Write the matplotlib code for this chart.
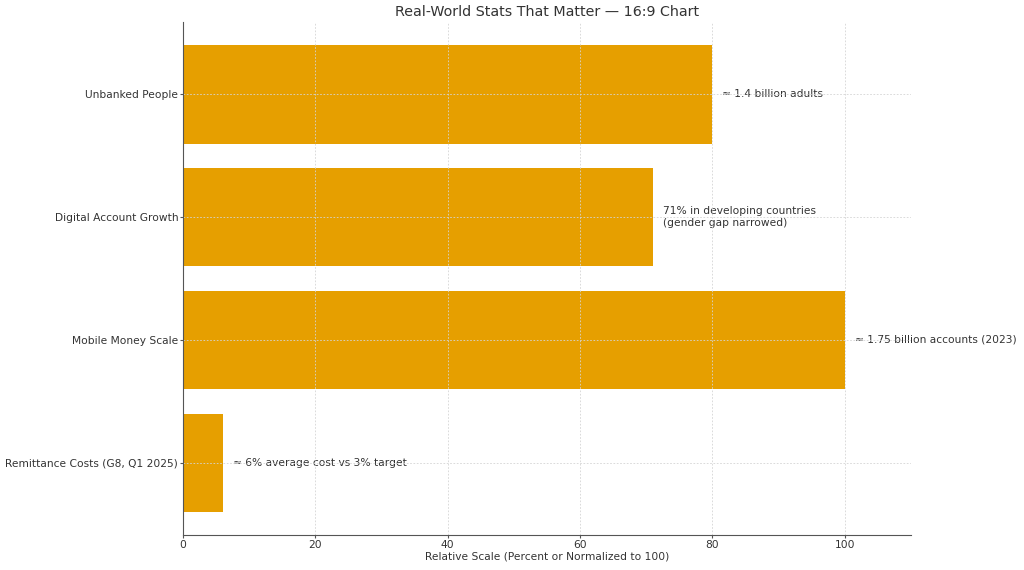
import matplotlib.pyplot as plt

# data
categories = ["Unbanked People", "Digital Account Growth", "Mobile Money Scale",
              "Remittance Costs (G8, Q1 2025)"]
values = [80, 71, 100, 6]
notes = ["≈ 1.4 billion adults",
         "71% in developing countries\n(gender gap narrowed)",
         "≈ 1.75 billion accounts (2023)",
         "≈ 6% average cost vs 3% target"]

txt = "#333333"

fig = plt.figure(figsize=(10.24, 5.7), dpi=100)
ax = fig.add_axes([183 / 1024, 35 / 570, 728 / 1024, 513 / 570])

ax.barh(categories, values, height=0.8, color="#E69F00", zorder=1)
ax.invert_yaxis()
ax.set_xlim(0, 110)

for i, (v, note) in enumerate(zip(values, notes)):
    ax.text(v + 1.5, i, note, va="center", ha="left", fontsize=7.7, color=txt, zorder=0)

ax.grid(True, color="#d4d4d4", linestyle=(0, (2, 2)), linewidth=0.6)
ax.set_axisbelow(False)

ax.spines["top"].set_visible(False)
ax.spines["right"].set_visible(False)
for side in ("left", "bottom"):
    ax.spines[side].set_color("#555555")
    ax.spines[side].set_zorder(5)
ax.tick_params(labelsize=7.7, colors=txt, length=2, pad=1.5, color="#555555")

ax.set_xlabel("Relative Scale (Percent or Normalized to 100)", fontsize=7.7, color=txt, labelpad=1)
ax.set_title("Real-World Stats That Matter — 16:9 Chart", fontsize=10.3, color=txt, pad=4)

fig.savefig("out.png", dpi=100)
